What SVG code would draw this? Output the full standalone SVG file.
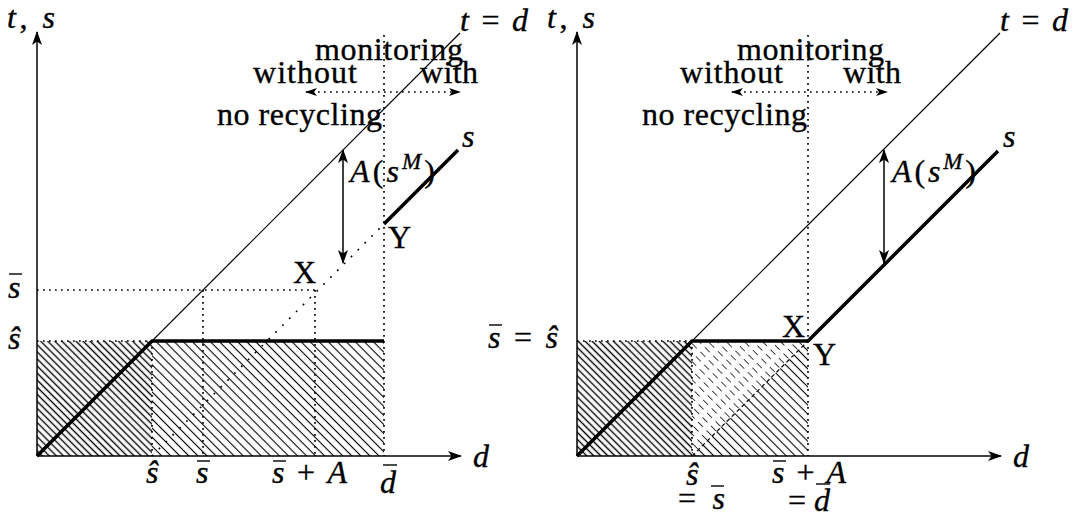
<svg xmlns="http://www.w3.org/2000/svg" width="1085" height="520" viewBox="0 0 1085 520">
<defs>
<style>
text{font-family:"Liberation Serif","Times New Roman",serif;font-size:32px;fill:#000;stroke:#000;stroke-width:0.35}
.i{font-style:italic}
.ax{stroke:#000;stroke-width:1.5;fill:none}
.thin{stroke:#000;stroke-width:1.2;fill:none}
.thick{stroke:#000;stroke-width:3.5;fill:none}
.dot{stroke:#000;stroke-width:1.7;fill:none;stroke-dasharray:1.7 4.3}
.dot2{stroke:#000;stroke-width:1.7;fill:none;stroke-dasharray:1.7 8}
.dash{stroke:#000;stroke-width:1.2;fill:none;stroke-dasharray:4 3}
.bar{stroke:#000;stroke-width:1.4}
</style>
<marker id="ar" viewBox="0 0 14 10" refX="13" refY="5" markerWidth="14" markerHeight="10" markerUnits="userSpaceOnUse" orient="auto-start-reverse">
<path d="M0,0 L14,5 L0,10 L3.5,5 z" fill="#000"/>
</marker>
<marker id="ars" viewBox="0 0 12 8" refX="11" refY="4" markerWidth="12" markerHeight="8" markerUnits="userSpaceOnUse" orient="auto-start-reverse">
<path d="M0,0 L12,4 L0,8 L3,4 z" fill="#000"/>
</marker>
<pattern id="hd" patternUnits="userSpaceOnUse" width="10" height="5" patternTransform="rotate(45)">
<line x1="0" y1="2.5" x2="10" y2="2.5" stroke="#000" stroke-width="1.4"/>
</pattern>
<pattern id="hl" patternUnits="userSpaceOnUse" width="10" height="6.4" patternTransform="rotate(45)">
<line x1="0" y1="3.2" x2="10" y2="3.2" stroke="#000" stroke-width="1.1"/>
</pattern>
<pattern id="hl2" patternUnits="userSpaceOnUse" width="12" height="6.4" patternTransform="rotate(45)">
<line x1="0" y1="3.2" x2="12" y2="3.2" stroke="#222" stroke-width="0.9" stroke-dasharray="7 5"/>
</pattern>
</defs>
<rect width="1085" height="520" fill="#fff"/>

<g id="left-panel">
<g id="left-hatch">
<rect x="37" y="341" width="115" height="115" fill="url(#hd)"/>
<rect x="152" y="341" width="232" height="115" fill="url(#hl)"/>
</g>
<g id="left-lines">
<path class="dot" d="M37,341H152 M152,341V456 M37,290H315 M203,290V456 M315,290V456 M384,35V456"/>
<path class="dot2" d="M152,456L384,224"/>
<line class="thin" x1="37" y1="456" x2="460" y2="33"/>
<path class="thick" d="M37,456L152,341H384"/>
<path class="thick" d="M384,224L458,150"/>
<line class="ax" x1="37" y1="456" x2="37" y2="32" marker-end="url(#ar)"/>
<line class="ax" x1="37" y1="456" x2="461" y2="456" marker-end="url(#ar)"/>
<line class="ax" x1="343" y1="150" x2="343" y2="263" marker-start="url(#ar)" marker-end="url(#ar)"/>
<line class="dot" x1="306" y1="92" x2="460" y2="92" marker-start="url(#ars)" marker-end="url(#ars)"/>
</g>
<g id="left-labels">
<text x="7" y="28" font-size="30" textLength="48"><tspan class="i">t</tspan>, <tspan class="i">s</tspan></text>
<text x="460" y="31" textLength="68"><tspan class="i">t</tspan> = <tspan class="i">d</tspan></text>
<text x="315" y="60" textLength="148">monitoring</text>
<text x="253" y="83" textLength="104">without</text>
<text x="420" y="83" textLength="58">with</text>
<text x="217" y="125" textLength="165">no recycling</text>
<text x="350" y="182" font-size="34" textLength="85"><tspan class="i">A</tspan>(<tspan class="i">s</tspan><tspan class="i" font-size="23" dy="-13">M</tspan><tspan dy="13">)</tspan></text>
<text x="462" y="147" class="i">s</text>
<text x="293" y="283">X</text>
<text x="388" y="248">Y</text>
<text x="8" y="298" class="i">s</text><line class="bar" x1="9" y1="274" x2="22" y2="274"/>
<text x="8" y="349" class="i">ŝ</text>
<text x="146" y="483" class="i">ŝ</text>
<text x="196" y="483" class="i">s</text><line class="bar" x1="197" y1="461" x2="210" y2="461"/>
<text x="272" y="483" textLength="75"><tspan class="i">s</tspan> + <tspan class="i">A</tspan></text><line class="bar" x1="273" y1="461" x2="286" y2="461"/>
<text x="380" y="493" class="i">d</text><line class="bar" x1="383" y1="465" x2="397" y2="465"/>
<text x="473" y="467" class="i">d</text>
</g>
</g>

<g id="right-panel">
<g id="right-hatch">
<rect x="577" y="341" width="115" height="115" fill="url(#hd)"/>
<polygon points="692,341 808,341 692,456" fill="url(#hl2)"/>
<polygon points="808,341 808,456 692,456" fill="url(#hl)"/>
</g>
<g id="right-lines">
<path class="dot" d="M577,341H692 M692,341V456 M808,35V456"/>
<path class="dash" d="M692,456L808,341"/>
<line class="thin" x1="577" y1="456" x2="1000" y2="33"/>
<path class="thick" d="M577,456L692,341H808L998,151"/>
<line class="ax" x1="577" y1="456" x2="577" y2="32" marker-end="url(#ar)"/>
<line class="ax" x1="577" y1="456" x2="1001" y2="456" marker-end="url(#ar)"/>
<line class="ax" x1="884" y1="150" x2="884" y2="263" marker-start="url(#ar)" marker-end="url(#ar)"/>
<line class="dot" x1="732" y1="92" x2="887" y2="92" marker-start="url(#ars)" marker-end="url(#ars)"/>
</g>
<g id="right-labels">
<text x="547" y="28" font-size="30" textLength="48"><tspan class="i">t</tspan>, <tspan class="i">s</tspan></text>
<text x="1000" y="31" textLength="68"><tspan class="i">t</tspan> = <tspan class="i">d</tspan></text>
<text x="737" y="60" textLength="147">monitoring</text>
<text x="680" y="83" textLength="103">without</text>
<text x="843" y="83" textLength="58">with</text>
<text x="642" y="125" textLength="165">no recycling</text>
<text x="892" y="182" font-size="34" textLength="84"><tspan class="i">A</tspan>(<tspan class="i">s</tspan><tspan class="i" font-size="23" dy="-13">M</tspan><tspan dy="13">)</tspan></text>
<text x="1003" y="147" class="i">s</text>
<text x="782" y="337">X</text>
<text x="813" y="365">Y</text>
<text x="488" y="348" textLength="70"><tspan class="i">s</tspan> = <tspan class="i">ŝ</tspan></text><line class="bar" x1="489" y1="325" x2="502" y2="325"/>
<text x="686" y="485" class="i">ŝ</text>
<text x="678" y="509" textLength="47">= <tspan class="i">s</tspan></text><line class="bar" x1="711" y1="486" x2="724" y2="486"/>
<text x="772" y="483" textLength="74"><tspan class="i">s</tspan> + <tspan class="i">A</tspan></text><line class="bar" x1="773" y1="461" x2="786" y2="461"/>
<text x="788" y="511" textLength="42">= <tspan class="i">d</tspan></text><line class="bar" x1="816" y1="484" x2="830" y2="484"/>
<text x="1013" y="467" class="i">d</text>
</g>
</g>
</svg>
